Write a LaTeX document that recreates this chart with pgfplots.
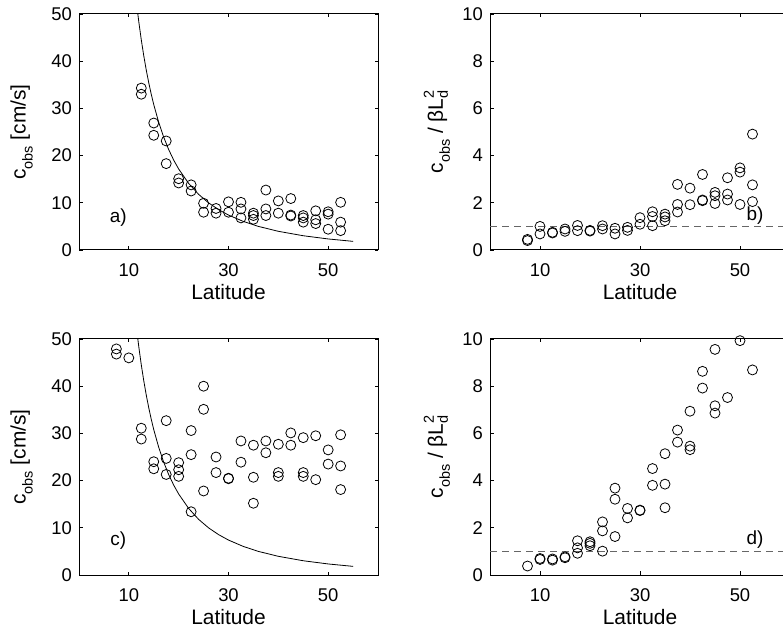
\documentclass[border=0pt]{standalone}
\usepackage{fontspec}
\setmainfont{Liberation Sans}
\usepackage{pgfplots}
\pgfplotsset{compat=1.18}

\newcommand\lab{\fontsize{21}{24}\selectfont}
\newcommand\sm{\fontsize{14.5}{16}\selectfont}
\newcommand\cobs{c\raisebox{-7bp}{\sm obs}}
\newcommand\bld{βL\makebox[0pt][l]{\raisebox{9bp}{\sm 2}}\raisebox{-5bp}{\sm d}}

% theory curve c = beta*Ld^2, read off panels a) and c)
\pgfplotstableread{
lat c
11.7 50.86
12 48.34
12.5 44.52
13 41.13
13.5 38.11
14 35.41
14.5 32.99
15 30.80
16 27.03
17 23.90
18 21.27
19 19.05
20 17.16
22 14.11
24 11.79
26 9.99
28 8.56
30 7.40
33 6.04
36 5.00
40 3.96
45 3.02
50 2.34
55 1.83
}\theory

\tikzset{plabel/.style={font=\fontsize{19}{20}\selectfont, inner sep=2bp}}

\pgfplotsset{
  panel/.style={
    scale only axis, width=299bp, height=236bp,
    xmin=0, xmax=60, xtick={10,30,50},
    tick align=inside, major tick length=3.5bp,
    axis line style={line width=1bp},
    every tick/.style={black, line width=0.8bp},
    tick label style={font=\fontsize{18.5}{20}\selectfont},
    /pgf/number format/assume math mode=true,
    xticklabel style={inner sep=0pt, anchor=north, yshift=-13bp},
    yticklabel style={inner sep=0pt, anchor=east, xshift=-7bp},
    xlabel={Latitude},
    xlabel style={font=\lab, inner sep=0pt, at={(axis description cs:0.5,-0.144)}, anchor=north},
    ylabel style={font=\lab, inner sep=0pt, anchor=south},
  },
  lpanel/.style={panel, ymin=0, ymax=50, ytick={0,10,...,50},
    ylabel={\cobs\ [cm/s]},
    ylabel style={at={(axis description cs:-0.154,0.5)}}},
  rpanel/.style={panel, width=300bp, ymin=0, ymax=10, ytick={0,2,...,10},
    ylabel={\cobs\ / \bld},
    ylabel style={at={(axis description cs:-0.133,0.5)}}},
  dots/.style={only marks, mark=o, mark size=5bp, mark options={line width=0.8bp, black}},
  curve/.style={black, line width=0.8bp, mark=none},
  unity/.style={black!60, line width=1bp, dash pattern=on 7bp off 5bp},
}

\begin{document}
\begin{tikzpicture}
\useasboundingbox (0,0) rectangle (783bp,629bp);

% a)
\begin{axis}[lpanel, at={(79bp,379bp)}, anchor=south west]
\addplot[curve] table[x=lat, y=c] {\theory};
\addplot[dots] coordinates {
(12.5,34.3) (12.5,33.0) (15,26.9) (15,24.3) (17.5,23.1) (17.5,18.3)
(20,15.1) (20,14.2) (22.5,13.8) (22.5,12.5) (25,9.9) (25,8.0)
(27.5,8.8) (27.5,7.8) (30,10.2) (30,8.0) (32.5,10.1) (32.5,8.7) (32.5,6.8)
(35,7.8) (35,7.3) (35,6.5) (37.5,12.7) (37.5,8.7) (37.5,7.3)
(40,10.4) (40,7.8) (42.5,10.9) (42.5,7.4) (42.5,7.2)
(45,7.3) (45,6.8) (45,5.9) (47.5,8.3) (47.5,6.4) (47.5,5.6)
(50,8.1) (50,7.6) (50,4.4) (52.5,10.1) (52.5,5.9) (52.5,4.1)
};
\node[plabel] at (axis cs:7.9,6.8) {a)};
\end{axis}

% b)
\begin{axis}[rpanel, at={(490bp,379bp)}, anchor=south west]
\addplot[unity] coordinates {(0,1) (60,1)};
\addplot[dots] coordinates {
(7.5,0.45) (7.5,0.40) (10,1.00) (10,0.68) (12.5,0.75) (12.5,0.72)
(15,0.89) (15,0.79) (17.5,1.04) (17.5,0.82) (20,0.83) (20,0.80)
(22.5,1.03) (22.5,0.89) (25,0.92) (25,0.68) (27.5,0.96) (27.5,0.83)
(30,1.37) (30,1.09) (32.5,1.62) (32.5,1.42) (32.5,1.03)
(35,1.52) (35,1.40) (35,1.24) (37.5,2.78) (37.5,1.93) (37.5,1.61)
(40,2.62) (40,1.92) (42.5,3.20) (42.5,2.12) (42.5,2.09)
(45,2.44) (45,2.30) (45,1.97) (47.5,3.06) (47.5,2.37) (47.5,2.12)
(50,3.48) (50,3.30) (50,1.93) (52.5,4.91) (52.5,2.76) (52.5,2.05)
};
\node[plabel, fill=white, inner ysep=1bp, text height=19bp, text depth=3bp, anchor=base]
  at (axis cs:53,1.23) {b)};
\end{axis}

% c)
\begin{axis}[lpanel, at={(79bp,54bp)}, anchor=south west]
\addplot[curve] table[x=lat, y=c] {\theory};
\addplot[dots] coordinates {
(7.5,47.9) (7.5,46.8) (10,46.0) (12.5,31.1) (12.5,28.8)
(15,24.0) (15,22.5) (17.5,32.7) (17.5,24.7) (17.5,21.3)
(20,23.8) (20,22.3) (20,20.9) (22.5,30.6) (22.5,25.5) (22.5,13.4)
(25,40.0) (25,35.1) (25,17.8) (27.5,25.0) (27.5,21.7)
(30,20.5) (30,20.4) (32.5,28.4) (32.5,23.9)
(35,27.5) (35,20.7) (35,15.2) (37.5,28.4) (37.5,25.9)
(40,27.7) (40,21.7) (40,20.9) (42.5,30.1) (42.5,27.5)
(45,29.1) (45,21.7) (45,20.9) (47.5,29.5) (47.5,20.2)
(50,26.5) (50,23.5) (52.5,29.7) (52.5,23.1) (52.5,18.1)
};
\node[plabel] at (axis cs:7.9,7.2) {c)};
\end{axis}

% d)
\begin{axis}[rpanel, at={(490bp,54bp)}, anchor=south west]
\addplot[unity] coordinates {(0,1) (60,1)};
\addplot[dots] coordinates {
(7.5,0.38) (10,0.70) (10,0.66) (12.5,0.68) (12.5,0.63)
(15,0.77) (15,0.73) (17.5,1.45) (17.5,1.15) (17.5,0.92)
(20,1.41) (20,1.34) (20,1.24) (22.5,2.25) (22.5,1.87) (22.5,1.01)
(25,3.68) (25,3.21) (25,1.63) (27.5,2.82) (27.5,2.42)
(30,2.75) (30,2.73) (32.5,4.51) (32.5,3.80)
(35,5.14) (35,3.85) (35,2.85) (37.5,6.14) (37.5,5.63)
(40,6.94) (40,5.46) (40,5.31) (42.5,8.63) (42.5,7.92)
(45,9.56) (45,7.17) (45,6.86) (47.5,7.52) (50,9.93) (52.5,8.69)
};
\node[plabel] at (axis cs:53,1.48) {d)};
\end{axis}
\end{tikzpicture}
\end{document}
